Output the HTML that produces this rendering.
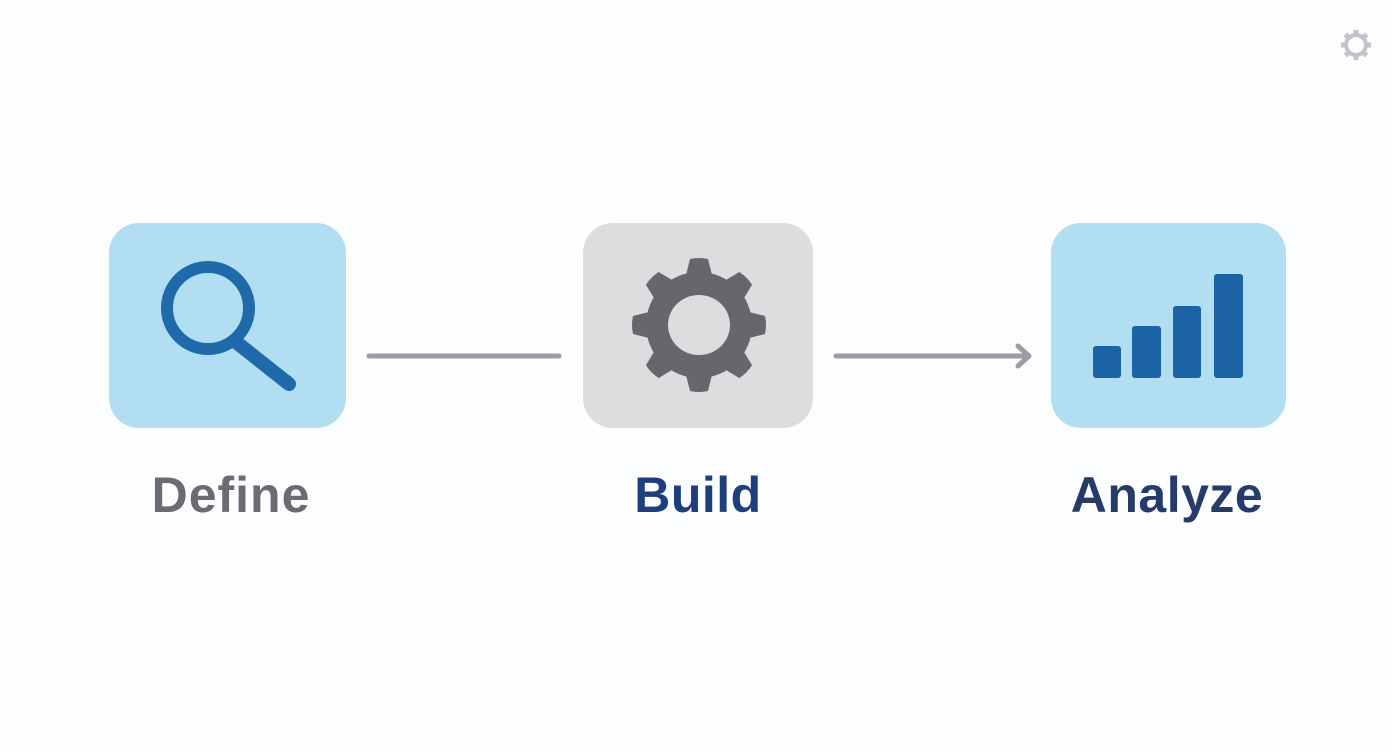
<!DOCTYPE html>
<html><head><style>
html,body{margin:0;padding:0;background:#fcfdfe;}
body{width:1392px;height:752px;overflow:hidden;position:relative;font-family:"Liberation Sans",sans-serif;}
</style></head><body>
<svg width="1392" height="752" viewBox="0 0 1392 752" xmlns="http://www.w3.org/2000/svg" style="position:absolute;left:0;top:0">
<rect width="1392" height="752" fill="#fcfdfe"/>
<rect x="109" y="223" width="237" height="205" rx="30" fill="#b1def1"/>
<rect x="583" y="223" width="230" height="205" rx="30" fill="#dcdddf"/>
<rect x="1051" y="223" width="235" height="205" rx="30" fill="#b1def1"/>
<circle cx="208" cy="308" r="41" fill="none" stroke="#1f6aab" stroke-width="12"/>
<line x1="236" y1="342" x2="289" y2="384" stroke="#1f6aab" stroke-width="14" stroke-linecap="round"/>
<g transform="translate(699,325)" fill="#66676b">
<circle r="53"/>
<g id="t"><path d="M-14,-46 L-9,-66 Q0,-68 9,-66 L14,-46 Z"/></g>
<use href="#t" transform="rotate(45)"/><use href="#t" transform="rotate(90)"/><use href="#t" transform="rotate(135)"/>
<use href="#t" transform="rotate(180)"/><use href="#t" transform="rotate(225)"/><use href="#t" transform="rotate(270)"/><use href="#t" transform="rotate(315)"/>
<ellipse rx="31" ry="30" fill="#dcdddf"/>
</g>
<g fill="#1b63a5">
<rect x="1093" y="346" width="28" height="32" rx="3"/>
<rect x="1132" y="326" width="29" height="52" rx="3"/>
<rect x="1173" y="306" width="28" height="72" rx="3"/>
<rect x="1214" y="274" width="29" height="104" rx="3"/>
</g>
<line x1="369" y1="356" x2="559" y2="356" stroke="#9c9da1" stroke-width="5" stroke-linecap="round"/>
<line x1="836" y1="356" x2="1028" y2="356" stroke="#9c9da1" stroke-width="5" stroke-linecap="round"/>
<polyline points="1018,346 1029,356 1018,366" fill="none" stroke="#9c9da1" stroke-width="5" stroke-linecap="round" stroke-linejoin="round"/>
<text x="231" y="512" text-anchor="middle" font-family="Liberation Sans, sans-serif" font-weight="bold" font-size="50" letter-spacing="1" fill="#6b6c72">Define</text>
<text x="698" y="512" text-anchor="middle" font-family="Liberation Sans, sans-serif" font-weight="bold" font-size="50" letter-spacing="0.5" fill="#1e3f7c">Build</text>
<text x="1167" y="512" text-anchor="middle" font-family="Liberation Sans, sans-serif" font-weight="bold" font-size="50" letter-spacing="0.5" fill="#263b6a">Analyze</text>
<g transform="translate(1356,45)" fill="none" stroke="#c2c3c6" stroke-width="4">
<circle r="10"/>
</g>
<g transform="translate(1356,45)" fill="#c2c3c6">
<g id="s"><rect x="-2.5" y="-15" width="5" height="6"/></g>
<use href="#s" transform="rotate(45)"/><use href="#s" transform="rotate(90)"/><use href="#s" transform="rotate(135)"/>
<use href="#s" transform="rotate(180)"/><use href="#s" transform="rotate(225)"/><use href="#s" transform="rotate(270)"/><use href="#s" transform="rotate(315)"/>
</g>
</svg>
</body></html>
